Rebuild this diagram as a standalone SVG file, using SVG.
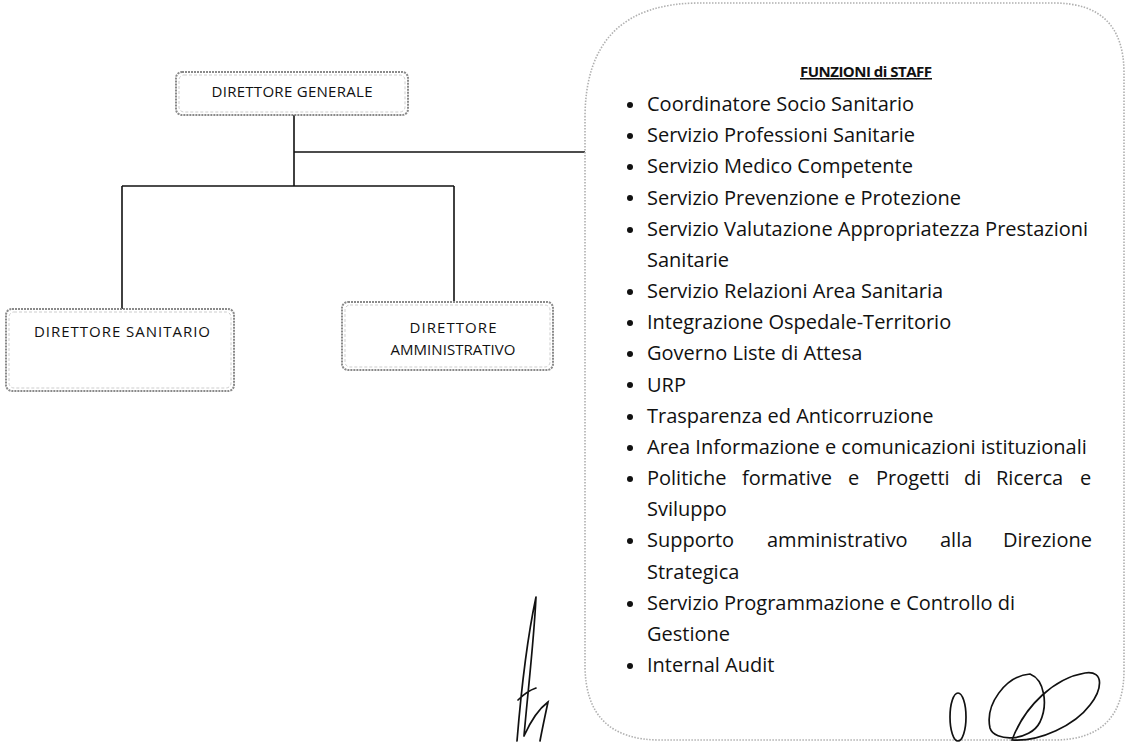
<svg xmlns="http://www.w3.org/2000/svg" width="1127" height="742" viewBox="0 0 1127 742">
<style>
.box{fill:none;stroke:#8a8a8a;stroke-width:2;stroke-dasharray:2 1}
.inner{fill:none;stroke:#c0c0c0;stroke-width:0.8;stroke-dasharray:3 2}
.sbox{fill:none;stroke:#b0b0b0;stroke-width:1.6;stroke-dasharray:1.5 1.5}
.lbl{font-family:"Open Sans","Liberation Sans",sans-serif;font-size:15px;fill:#111;text-anchor:middle}
.it{font-family:"Open Sans","Liberation Sans",sans-serif;font-size:20px;fill:#111}
.ttl{font-family:"Open Sans","Liberation Sans",sans-serif;font-size:15px;font-weight:bold;fill:#111;text-anchor:middle;text-decoration:underline}
.con{stroke:#111;stroke-width:1.6;fill:none}
.sig{stroke:#111;stroke-width:1.7;fill:none;stroke-linecap:round}
</style>
<rect width="1127" height="742" fill="#fff"/>
<g id="connectors">
<line class="con" x1="294" y1="115" x2="294" y2="186"/>
<line class="con" x1="294" y1="152" x2="585" y2="152"/>
<line class="con" x1="122" y1="186" x2="454" y2="186"/>
<line class="con" x1="122" y1="186" x2="122" y2="309"/>
<line class="con" x1="454" y1="186" x2="454" y2="302"/>
</g>
<g id="dg">
<rect class="box" x="176" y="72" width="232" height="43" rx="6"/>
<rect class="inner" x="179" y="75" width="226" height="37" rx="5"/>
<text class="lbl" x="292" y="97" textLength="161">DIRETTORE GENERALE</text>
</g>
<g id="ds">
<rect class="box" x="6" y="309" width="228" height="82" rx="6"/>
<rect class="inner" x="9" y="312" width="222" height="76" rx="5"/>
<text class="lbl" x="122" y="337" textLength="176">DIRETTORE SANITARIO</text>
</g>
<g id="da">
<rect class="box" x="342" y="302" width="211" height="68" rx="6"/>
<rect class="inner" x="345" y="305" width="205" height="62" rx="5"/>
<text class="lbl" x="453" y="333" textLength="87">DIRETTORE</text>
<text class="lbl" x="453" y="355" textLength="125">AMMINISTRATIVO</text>
</g>
<g id="staff">
<path class="sbox" d="M700,3 L1054,3 Q1124,3 1124,73 L1124,670 Q1124,740 1054,740 L660,740 Q585,740 585,665 L585,118 Q585,3 700,3 Z"/>
<text class="ttl" x="866" y="77" textLength="132">FUNZIONI di STAFF</text>
<g fill="#111">
<circle cx="630" cy="105" r="3"/><circle cx="630" cy="136" r="3"/><circle cx="630" cy="167" r="3"/><circle cx="630" cy="198" r="3"/><circle cx="630" cy="230" r="3"/><circle cx="630" cy="292" r="3"/><circle cx="630" cy="323" r="3"/><circle cx="630" cy="354" r="3"/><circle cx="630" cy="385" r="3"/><circle cx="630" cy="417" r="3"/><circle cx="630" cy="448" r="3"/><circle cx="630" cy="479" r="3"/><circle cx="630" cy="541" r="3"/><circle cx="630" cy="604" r="3"/><circle cx="630" cy="666" r="3"/>
</g>
<text class="it" x="647" y="111">Coordinatore Socio Sanitario</text>
<text class="it" x="647" y="142">Servizio Professioni Sanitarie</text>
<text class="it" x="647" y="173">Servizio Medico Competente</text>
<text class="it" x="647" y="205">Servizio Prevenzione e Protezione</text>
<text class="it" x="647" y="236">Servizio Valutazione Appropriatezza Prestazioni</text>
<text class="it" x="647" y="267">Sanitarie</text>
<text class="it" x="647" y="298">Servizio Relazioni Area Sanitaria</text>
<text class="it" x="647" y="329">Integrazione Ospedale-Territorio</text>
<text class="it" x="647" y="360">Governo Liste di Attesa</text>
<text class="it" x="647" y="392">URP</text>
<text class="it" x="647" y="423">Trasparenza ed Anticorruzione</text>
<text class="it" x="647" y="454">Area Informazione e comunicazioni istituzionali</text>
<text class="it" y="485"><tspan x="647">Politiche</tspan> <tspan x="742">formative</tspan> <tspan x="848">e</tspan> <tspan x="876">Progetti</tspan> <tspan x="964">di</tspan> <tspan x="996">Ricerca</tspan> <tspan x="1080">e</tspan></text>
<text class="it" x="647" y="516">Sviluppo</text>
<text class="it" y="547"><tspan x="647">Supporto</tspan> <tspan x="767">amministrativo</tspan> <tspan x="940">alla</tspan> <tspan x="1003">Direzione</tspan></text>
<text class="it" x="647" y="579">Strategica</text>
<text class="it" x="647" y="610">Servizio Programmazione e Controllo di</text>
<text class="it" x="647" y="641">Gestione</text>
<text class="it" x="647" y="672">Internal Audit</text>
</g>
<g id="signatures">
<path class="sig" d="M536,597 C530,625 522,680 517,741 M536,597 C534,640 528,690 524,736 M524,736 C532,718 540,708 548,702 C545,716 542,730 540,741 M518,700 C524,694 530,690 536,688"/>
<ellipse class="sig" cx="958" cy="717" rx="8" ry="24"/>
<path class="sig" d="M1030,674 C1005,676 985,705 990,728 C994,742 1030,742 1040,722 C1048,705 1045,680 1030,674 Z"/>
<path class="sig" d="M1012,740 C1025,705 1055,678 1085,673 C1105,670 1102,690 1090,705 C1075,725 1040,742 1012,740 Z"/>
</g>
</svg>
